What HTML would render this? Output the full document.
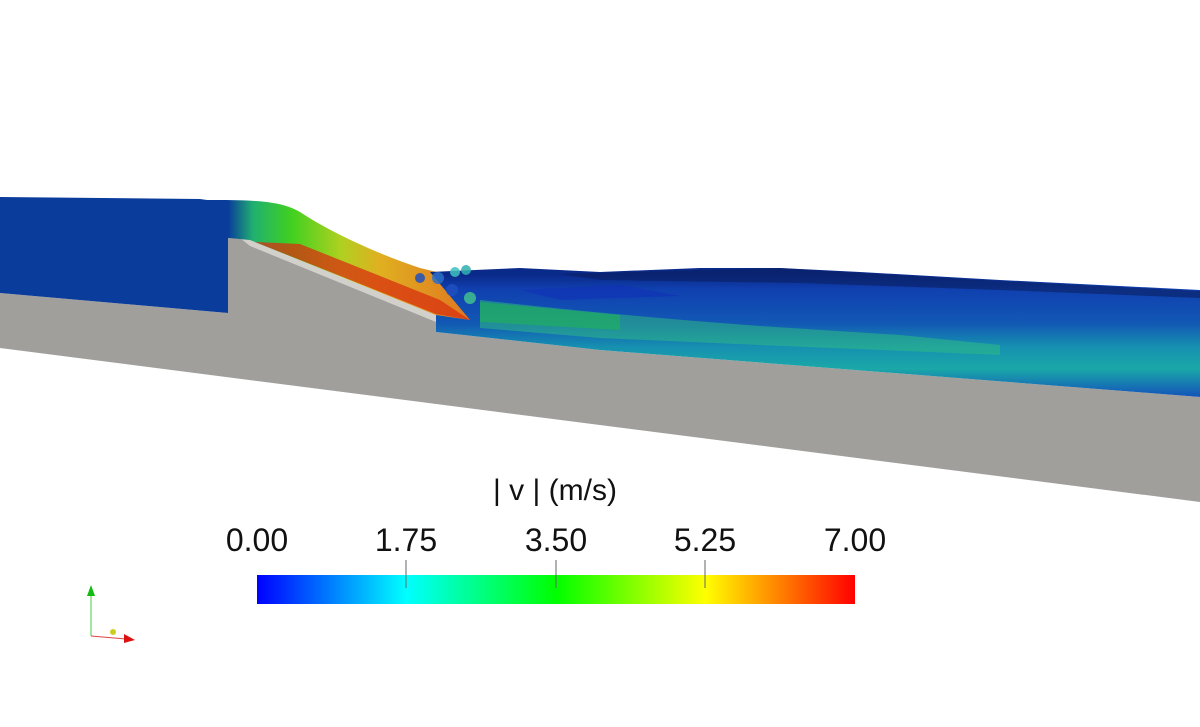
<!DOCTYPE html>
<html><head><meta charset="utf-8"><style>
html,body{margin:0;padding:0;background:#fff;width:1200px;height:727px;overflow:hidden}
svg{display:block}
text{font-family:"Liberation Sans",sans-serif;fill:#111}
</style></head><body>
<svg width="1200" height="727" viewBox="0 0 1200 727">
<defs>
<linearGradient id="jet" x1="0" x2="1" y1="0" y2="0">
<stop offset="0" stop-color="#0000ff"/>
<stop offset="0.25" stop-color="#00ffff"/>
<stop offset="0.5" stop-color="#00ff00"/>
<stop offset="0.75" stop-color="#ffff00"/>
<stop offset="1" stop-color="#ff0000"/>
</linearGradient>
<linearGradient id="nappe" x1="228" y1="0" x2="480" y2="0" gradientUnits="userSpaceOnUse">
<stop offset="0" stop-color="#0a3c9c"/>
<stop offset="0.1" stop-color="#20b070"/>
<stop offset="0.25" stop-color="#40d020"/>
<stop offset="0.45" stop-color="#b0d020"/>
<stop offset="0.6" stop-color="#e0b020"/>
<stop offset="1" stop-color="#e07020"/>
</linearGradient>
<linearGradient id="down" x1="0" y1="275" x2="0" y2="395" gradientUnits="userSpaceOnUse">
<stop offset="0" stop-color="#0a2a8a"/>
<stop offset="0.12" stop-color="#1040b0"/>
<stop offset="0.4" stop-color="#1258b4"/>
<stop offset="0.6" stop-color="#1690b0"/>
<stop offset="0.78" stop-color="#1aa8a8"/>
<stop offset="1" stop-color="#1458b8"/>
</linearGradient>
</defs>
<polygon points="0,293 228,313 228,238 250,240 436,315 436,332 600,350 1200,397 1200,502 0,348" fill="#a09f9c"/>
<polygon points="240,238 250,238 436,315 436,322 250,246" fill="#d2d0ca"/>
<path d="M0,197 L200,199 L228,203 L228,313 L0,293 Z" fill="#0a3c9c"/>
<path d="M205,200 C250,200 280,200 300,212 C330,232 380,255 420,268 L470,280 L490,318 L470,322 L436,315 L250,240 L228,238 L215,205 Z" fill="url(#nappe)"/>
<path d="M255,242 L436,314 L470,320 L440,300 L300,244 Z" fill="#d83010" opacity="0.75"/>
<path d="M430,272 L520,268 L600,272 L700,268 L780,268 L860,272 L1000,280 L1200,290 L1200,397 L600,350 L436,332 L436,315 L470,320 Z" fill="url(#down)"/>
<path d="M560,274 L700,270 L780,268 L860,273 L1000,281 L1200,291 L1200,298 L1000,290 L800,283 L600,280 Z" fill="#0a2060" opacity="0.6"/>
<path d="M480,300 C550,308 650,318 760,326 L900,335 L1000,345 L1000,355 L760,345 L600,338 L480,328 Z" fill="#30c080" opacity="0.5"/>
<path d="M480,302 L620,315 L620,330 L480,322 Z" fill="#20c040" opacity="0.45"/>
<path d="M680,296 L620,285 L520,290 L560,300 Z" fill="#1030b8" opacity="0.6"/>
<g opacity="0.85">
<circle cx="420" cy="278" r="5" fill="#2050c0"/><circle cx="438" cy="278" r="6" fill="#2a70c8"/><circle cx="455" cy="272" r="5" fill="#40c0c0"/>
<circle cx="466" cy="270" r="5" fill="#30b0b0"/><circle cx="452" cy="290" r="6" fill="#2050c0"/><circle cx="470" cy="298" r="6" fill="#40c090"/>
</g>
<text x="555" y="500" font-size="30" text-anchor="middle">| v |  (m/s)</text>
<rect x="257" y="575" width="598" height="29" fill="url(#jet)"/>
<g stroke="#666" stroke-width="1">
<line x1="406" y1="560" x2="406" y2="588"/>
<line x1="556" y1="560" x2="556" y2="588"/>
<line x1="705" y1="560" x2="705" y2="588"/>
</g>
<g font-size="32" text-anchor="middle">
<text x="257" y="551">0.00</text>
<text x="406" y="551">1.75</text>
<text x="556" y="551">3.50</text>
<text x="705" y="551">5.25</text>
<text x="855" y="551">7.00</text>
</g>
<line x1="91" y1="636" x2="91" y2="592" stroke="#4c4" stroke-width="1"/>
<polygon points="87,596 95,596 91,585" fill="#1b1"/>
<line x1="91" y1="636" x2="126" y2="639" stroke="#d44" stroke-width="1"/>
<polygon points="124,634 135,640 124,643" fill="#d11"/>
<circle cx="113" cy="632" r="3" fill="#cc2"/>
</svg>
</body></html>
